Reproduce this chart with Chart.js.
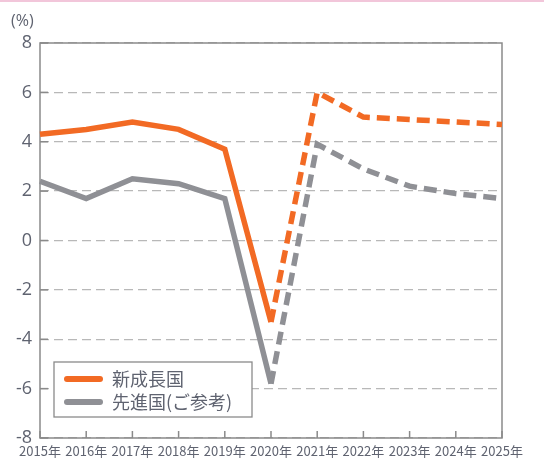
<!DOCTYPE html>
<html>
<head>
<meta charset="utf-8">
<style>
  html, body { margin: 0; padding: 0; background: #fff; }
  #wrap { width: 544px; height: 466px; }
</style>
</head>
<body>
<div id="wrap"><canvas id="chart" width="544" height="466"></canvas></div>
<script src="https://cdn.jsdelivr.net/npm/chart.js@4/dist/chart.umd.min.js"></script>
<script>
const years = ['2015年', '2016年', '2017年', '2018年', '2019年', '2020年', '2021年', '2022年', '2023年', '2024年', '2025年'];
const shinko = [4.3, 4.5, 4.8, 4.5, 3.7, -3.3, 6.0, 5.0, 4.9, 4.8, 4.7];
const senshin = [2.4, 1.7, 2.5, 2.3, 1.7, -5.8, 3.9, 2.9, 2.2, 1.9, 1.7];
const seriesNames = ['新成長国', '先進国(ご参考)'];
const yTicks = [-8, -6, -4, -2, 0, 2, 4, 6, 8];
const unitLabel = '(%)';
const forecastFrom = 5; // 2020年以降は見通し（破線）

const ORANGE = '#f26a24';
const GRAY = '#8f9095';
const TEXT = '#5f6370';

// 枠線・内向きの目盛り・凡例
const frame = {
  id: 'frame',
  beforeDraw(chart) {
    const ctx = chart.ctx;
    ctx.save();
    ctx.fillStyle = '#f2c6da';
    ctx.fillRect(0, 0, chart.width, 2);
    ctx.fillStyle = TEXT;
    ctx.font = '16px "Open Sans", sans-serif';
    ctx.textBaseline = 'middle';
    ctx.fillText(unitLabel, 11, 21);
    ctx.restore();
  },
  beforeDatasetsDraw(chart) {
    const { ctx, chartArea: a, scales: { x, y } } = chart;
    ctx.save();
    ctx.strokeStyle = '#8a8a8a';
    ctx.lineWidth = 1.5;
    y.ticks.forEach((t, i) => {
      const py = y.getPixelForTick(i);
      ctx.beginPath();
      ctx.moveTo(a.left, py);
      ctx.lineTo(a.left + 8, py);
      ctx.stroke();
    });
    x.ticks.forEach((t, i) => {
      const px = x.getPixelForTick(i);
      ctx.beginPath();
      ctx.moveTo(px, a.bottom);
      ctx.lineTo(px, a.bottom - 7);
      ctx.stroke();
    });
    ctx.strokeRect(a.left, a.top, a.width, a.height);
    ctx.restore();
  },
  afterDraw(chart) {
    const ctx = chart.ctx;
    const a = chart.chartArea;
    const bx = a.left + 14, by = a.bottom - 76, bw = 198, bh = 55;
    ctx.save();
    ctx.fillStyle = '#fff';
    ctx.fillRect(bx, by, bw, bh);
    ctx.strokeStyle = '#8a8a8a';
    ctx.lineWidth = 1.3;
    ctx.strokeRect(bx, by, bw, bh);
    ctx.font = '18px "Noto Sans CJK JP", sans-serif';
    ctx.textBaseline = 'middle';
    chart.data.datasets.forEach((ds, i) => {
      const cy = by + 17 + i * 23;
      ctx.strokeStyle = ds.borderColor;
      ctx.lineWidth = 6;
      ctx.lineCap = 'round';
      ctx.beginPath();
      ctx.moveTo(bx + 13, cy);
      ctx.lineTo(bx + 46, cy);
      ctx.stroke();
      ctx.fillStyle = TEXT;
      ctx.fillText(ds.label, bx + 58, cy);
    });
    ctx.restore();
  }
};

const dashed = ctx => ctx.p0DataIndex >= forecastFrom ? [13, 7] : undefined;

new Chart(document.getElementById('chart'), {
  type: 'line',
  data: {
    labels: years,
    datasets: [
      {
        label: seriesNames[0],
        data: shinko,
        borderColor: ORANGE,
        borderWidth: 5.5,
        pointRadius: 0,
        borderJoinStyle: 'miter',
        segment: { borderDash: dashed }
      },
      {
        label: seriesNames[1],
        data: senshin,
        borderColor: GRAY,
        borderWidth: 5.5,
        pointRadius: 0,
        borderJoinStyle: 'miter',
        segment: { borderDash: dashed }
      }
    ]
  },
  options: {
    responsive: false,
    animation: false,
    devicePixelRatio: 1,
    layout: { padding: { top: 43, right: 42, left: 0, bottom: 0 } },
    plugins: {
      legend: { display: false },
      tooltip: { enabled: false }
    },
    scales: {
      x: {
        offset: false,
        grid: { display: false, drawTicks: false },
        border: { display: false },
        ticks: {
          color: TEXT,
          padding: 5,
          maxRotation: 0,
          autoSkip: false,
          font: { family: '"Liberation Sans Narrow", "Noto Sans CJK JP", sans-serif', size: 13 }
        },
        afterFit(scale) { scale.height = 28; }
      },
      y: {
        min: yTicks[0],
        max: yTicks[yTicks.length - 1],
        afterBuildTicks(scale) { scale.ticks = yTicks.map(v => ({ value: v })); },
        grid: { color: '#b8b8b8', lineWidth: 1.3, drawTicks: false },
        border: { display: false, dash: [9, 5] },
        ticks: {
          color: TEXT,
          padding: 8,
          font: { family: '"Open Sans", sans-serif', size: 18 }
        },
        afterFit(scale) { scale.width = 40; }
      }
    }
  },
  plugins: [frame]
});
</script>
</body>
</html>
